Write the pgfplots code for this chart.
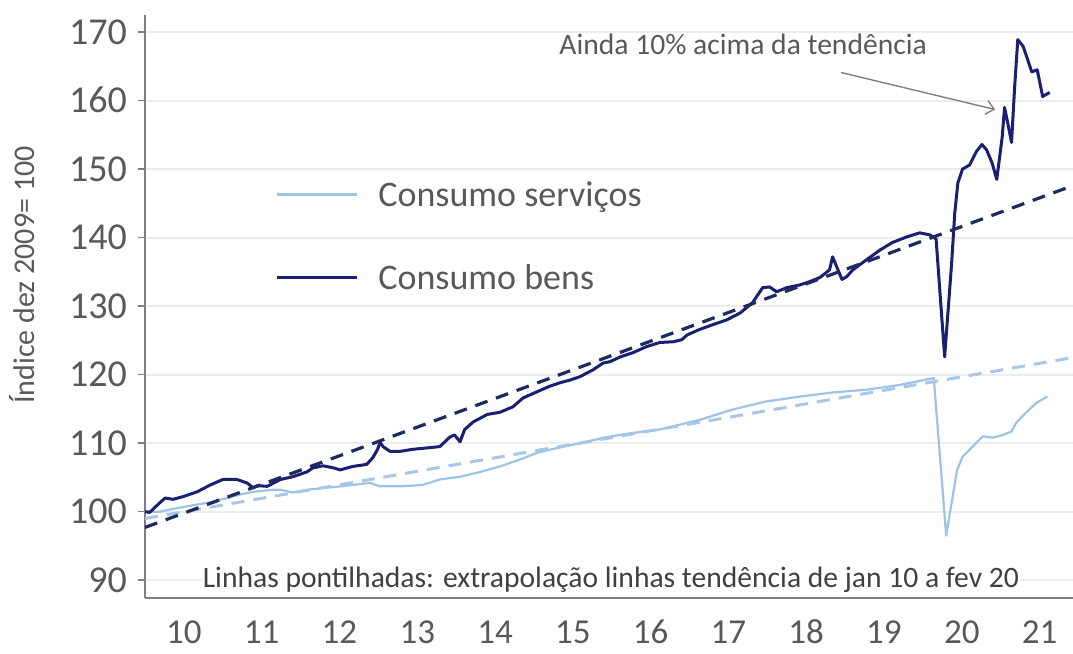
\documentclass[border=0pt]{standalone}
\usepackage{pgfplots}
\pgfplotsset{compat=1.18}
\usepackage{pgfplotstable}
\usepackage{fontspec}
\setmainfont{Carlito}
\usetikzlibrary{arrows.meta}
\definecolor{darkline}{HTML}{1A1F71}
\definecolor{lightline}{HTML}{9DC3E6}
\definecolor{darkdash}{HTML}{1F2B5E}
\definecolor{lightdash}{HTML}{A8C6E6}
\definecolor{gridgray}{HTML}{EDEDED}
\definecolor{axisgray}{HTML}{7F7F7F}
\definecolor{labelgray}{HTML}{595959}
\definecolor{notegray}{HTML}{404040}
\definecolor{arrowgray}{HTML}{808080}

\pgfplotstableread{
x y
10.00 100.0
10.06 99.9
10.19 101.3
10.26 102.0
10.36 101.8
10.49 102.2
10.67 102.9
10.84 103.9
11.00 104.7
11.18 104.7
11.31 104.2
11.39 103.5
11.45 103.8
11.57 103.7
11.74 104.7
11.90 105.1
12.08 105.8
12.16 106.4
12.29 106.7
12.42 106.4
12.51 106.1
12.67 106.6
12.85 106.9
12.93 107.9
12.99 109.1
13.02 110.1
13.06 109.5
13.15 108.8
13.28 108.8
13.44 109.1
13.62 109.3
13.79 109.5
13.92 110.9
13.98 111.2
14.05 110.2
14.11 112.0
14.22 113.1
14.40 114.2
14.56 114.5
14.73 115.3
14.86 116.6
15.04 117.5
15.20 118.3
15.33 118.8
15.46 119.2
15.59 119.7
15.76 120.7
15.89 121.7
15.98 121.9
16.11 122.6
16.27 123.2
16.45 124.1
16.62 124.7
16.79 124.8
16.90 125.1
16.97 125.8
17.13 126.6
17.30 127.3
17.48 128.0
17.65 129.0
17.81 130.5
17.94 132.7
18.03 132.8
18.12 132.1
18.25 132.7
18.42 133.1
18.55 133.6
18.68 134.2
18.80 135.3
18.84 137.2
18.89 135.8
18.96 133.9
19.02 134.3
19.10 135.3
19.28 136.8
19.45 138.2
19.61 139.3
19.79 140.1
19.96 140.7
20.09 140.4
20.17 139.8
20.28 122.6
20.37 136.3
20.41 143.6
20.45 148.0
20.51 150.0
20.60 150.6
20.69 152.6
20.76 153.6
20.82 152.8
20.89 150.9
20.95 148.5
21.02 154.7
21.05 159.0
21.09 156.8
21.14 153.9
21.18 162.0
21.22 168.9
21.29 167.9
21.40 164.2
21.47 164.5
21.54 160.6
21.63 161.2
}\bens

\pgfplotstableread{
x y
10.00 100.0
10.19 100.0
10.45 100.6
10.80 101.3
11.06 102.0
11.22 102.5
11.39 102.9
11.65 103.2
11.74 103.2
11.90 102.8
12.08 103.2
12.34 103.5
12.60 103.8
12.89 104.2
13.02 103.7
13.28 103.7
13.57 103.9
13.79 104.7
14.05 105.1
14.31 105.8
14.56 106.6
14.82 107.6
15.04 108.6
15.30 109.3
15.60 110.0
15.90 110.8
16.10 111.2
16.40 111.7
16.62 112.0
17.13 113.4
17.55 114.9
17.99 116.1
18.42 116.8
18.84 117.4
19.28 117.8
19.70 118.5
20.05 119.3
20.14 119.5
20.30 96.5
20.44 106.1
20.51 108.0
20.64 109.5
20.77 111.0
20.90 110.8
21.03 111.2
21.14 111.7
21.20 113.0
21.33 114.5
21.46 115.9
21.60 116.8
}\servicos

\pgfplotstableread{
x y
10.00 97.7
21.93 147.6
}\trendbens

\pgfplotstableread{
x y
10.00 99.0
21.93 122.5
}\trendservicos

\begin{document}
\begin{tikzpicture}
\begin{axis}[
  name=ax, at={(0,0)}, anchor=south west,
  scale only axis, width=464pt, height=291.5pt,
  xmin=10, xmax=21.93, ymin=87.4, ymax=172.5,
  axis x line*=bottom, axis y line*=left,
  axis line style={draw=axisgray, line width=0.9pt},
  every tick/.style={draw=axisgray, line width=0.8pt},
  tick align=outside,
  major tick length=3.5pt, minor tick length=3.5pt,
  ytick={90,100,...,170},
  xtick={10.5,11.5,12.5,13.5,14.5,15.5,16.5,17.5,18.5,19.5,20.5,21.5},
  xticklabels={10,11,12,13,14,15,16,17,18,19,20,21},
  xtick style={draw=none},
  minor xtick={11,12,13,14,15,16,17,18,19,20,21},
  ymajorgrids, grid style={gridgray, line width=0.9pt},
  /pgf/number format/assume math mode=true,
  tick label style={text=labelgray},
  xticklabel style={font=\fontsize{17.5}{20}\selectfont, text height=12pt, text depth=0pt, inner sep=1pt, yshift=-6pt},
  yticklabel style={font=\fontsize{19}{22}\selectfont, text height=12pt, text depth=0pt, xshift=-2pt},
  ylabel={Índice dez 2009= 100},
  ylabel style={at={(axis description cs:-0.1325,0.554)}, anchor=center,
    font=\fontsize{15}{18}\selectfont, text=labelgray},
  legend style={at={(axis description cs:0.1336,0.614)}, anchor=west,
    draw=none, fill=none, font=\fontsize{18}{21}\selectfont, text=labelgray,
    row sep=25.5pt, column sep=10pt,
    nodes={inner sep=0pt, text height=12pt, text depth=4pt}},
  legend cell align=left,
  legend image code/.code={\draw[#1] (0pt,2pt) -- (40pt,2pt);},
]
\addplot[lightline, line width=1.1pt, line join=round] table[x=x,y=y] {\servicos};
\addlegendentry{Consumo serviços}
\addplot[darkline, line width=1.5pt, line join=round] table[x=x,y=y] {\bens};
\addlegendentry{Consumo bens}
\addplot[forget plot, lightdash, line width=1.5pt, dash pattern=on 6.5pt off 4.5pt] table[x=x,y=y] {\trendservicos};
\addplot[forget plot, darkdash, line width=1.6pt, dash pattern=on 6.5pt off 4.5pt] table[x=x,y=y] {\trendbens};
\node[font=\fontsize{14.8}{17}\selectfont, text=labelgray] at (axis cs:17.69,168.2) {Ainda 10\% acima da tendência};
\draw[arrowgray, line width=0.7pt, -{Straight Barb[length=4pt,width=7pt]}] (axis cs:18.95,164.1) -- (axis cs:20.93,158.7);
\node[fill=white, inner sep=0.5pt, font=\fontsize{14.8}{17}\selectfont, text=notegray] at (axis cs:15.99,90.1) {Linhas pontilhadas: extrapolação linhas tendência de jan 10 a fev 20};
\end{axis}
\pgfresetboundingbox
\path[use as bounding box] ([shift={(-72.5pt,-28pt)}]ax.south west) rectangle ([shift={(0pt,7.5pt)}]ax.north east);
\end{tikzpicture}
\end{document}
